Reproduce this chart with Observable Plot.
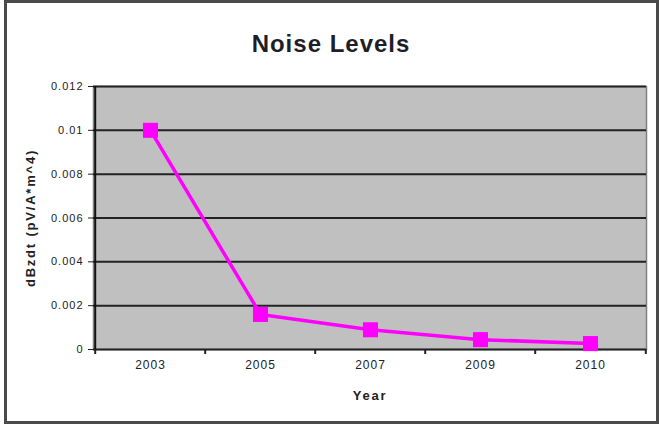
<!DOCTYPE html>
<html>
<head>
<meta charset="utf-8">
<script src="https://cdn.jsdelivr.net/npm/d3@7"></script>
<script src="https://cdn.jsdelivr.net/npm/@observablehq/plot@0.6"></script>
<style>
  html, body { margin: 0; padding: 0; background: #fff; }
  #wrap { position: relative; width: 661px; height: 424px; }
  #border { position: absolute; left: 4px; top: 0px; width: 655px; height: 424px; box-sizing: border-box; border: 3px solid #4a4a4a; pointer-events: none; }
  svg text { letter-spacing: 1px; }
</style>
</head>
<body>
<div id="wrap"><div id="border"></div></div>
<script>
const title = "Noise Levels";
const years = ["2003", "2005", "2007", "2009", "2010"];
const noise = [0.01, 0.0016, 0.0009, 0.00045, 0.00027];
const yTicks = [0, 0.002, 0.004, 0.006, 0.008, 0.01, 0.012];
const yLabel = "dBzdt (pV/A*m^4)";
const xLabel = "Year";

const data = years.map((y, i) => ({year: y, value: noise[i]}));

const W = 661, H = 424, mL = 93, mR = 15, mT = 86, mB = 75;
const bw = (W - mL - mR) / years.length;

const chart = Plot.plot({
  width: W,
  height: H,
  marginLeft: mL,
  marginRight: mR,
  marginTop: mT,
  marginBottom: mB,
  style: {fontFamily: "'Liberation Sans', Arial, sans-serif", color: "#222", background: "transparent"},
  x: {type: "band", domain: years, padding: 0},
  y: {domain: [0, 0.012]},
  marks: [
    Plot.frame({fill: "#c0c0c0", stroke: "#808080", strokeWidth: 1.5}),
    Plot.ruleY(yTicks, {stroke: "#222", strokeWidth: 2}),
    Plot.ruleX([years[0]], {y1: 0, y2: 0.012, dx: -bw / 2, stroke: "#111", strokeWidth: 2}),
    Plot.axisY({ticks: yTicks, tickFormat: d => String(d), tickSize: 5, tickPadding: 5, fontSize: 11,
      label: yLabel, labelAnchor: "center", labelArrow: "none", labelOffset: 68}),
    Plot.axisX({tickSize: 0, tickPadding: 11, fontSize: 12,
      label: xLabel, labelAnchor: "center", labelArrow: "none", labelOffset: 50}),
    Plot.axisX({ticks: years, tickSize: 5, tickFormat: () => "", dx: -bw / 2, label: null, strokeWidth: 2}),
    Plot.axisX({ticks: [years[years.length - 1]], tickSize: 5, tickFormat: () => "", dx: bw / 2, label: null, strokeWidth: 2}),
    Plot.lineY(data, {x: "year", y: "value", stroke: "#ff00ff", strokeWidth: 3.5}),
    Plot.dot(data, {x: "year", y: "value", symbol: "square", r: 8.5, fill: "#ff00ff", stroke: "none"}),
    Plot.text([title], {frameAnchor: "top", dx: -39, dy: -52, fontSize: 24, fontWeight: "bold", fill: "#1e1e2a"})
  ]
});

document.getElementById("wrap").prepend(chart);

// style axis labels
chart.querySelectorAll("g[aria-label='y-axis label'] text, g[aria-label='x-axis label'] text").forEach(t => {
  t.setAttribute("font-weight", "bold");
  t.setAttribute("font-size", "13");
  t.style.letterSpacing = "1.8px";
});
</script>
</body>
</html>
